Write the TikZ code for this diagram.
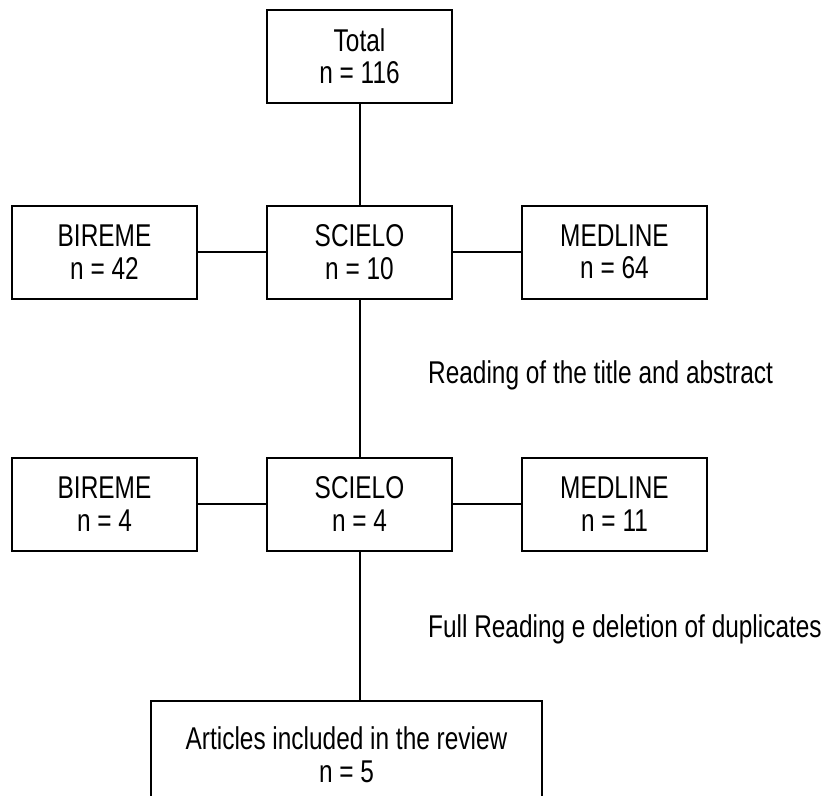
\documentclass[tikz,border=0pt]{standalone}
\usepackage{fontspec}
\setmainfont{Liberation Sans}[FakeStretch=0.775]
\usetikzlibrary{positioning}

\begin{document}
\begin{tikzpicture}[x=1pt, y=1pt, node distance=103pt and 70pt, every node/.style={font=\fontsize{31.5}{32.5}\selectfont}, box/.style={draw, line width=2pt, align=center, outer sep=0pt, minimum width=185pt, minimum height=93pt}, link/.style={line width=2pt}]
\clip (0,0) rectangle (827,-795);
\node[box] (total) at (359.5,-56) {Total\\n = 116};
\node[box, below=of total] (scielo1) {SCIELO\\n = 10};
\node[box, left=of scielo1] (bireme1) {BIREME\\n = 42};
\node[box, right=of scielo1] (medline1) {MEDLINE\\n = 64};
\node[box, below=159pt of scielo1] (scielo2) {SCIELO\\n = 4};
\node[box, left=of scielo2] (bireme2) {BIREME\\n = 4};
\node[box, right=of scielo2] (medline2) {MEDLINE\\n = 11};
\node[box, minimum width=391pt, minimum height=108pt] (included) at (346.5,-754.5) {Articles included in the review\\n = 5};
\node[anchor=base west, inner sep=0pt] (reading) at (428,-383) {Reading of the title and abstract};
\node[anchor=base west, inner sep=0pt] (fullread) at (428,-637) {Full Reading e deletion of duplicates};
\draw[link] (total) -- (scielo1);
\draw[link] (bireme1) -- (scielo1);
\draw[link] (scielo1) -- (medline1);
\draw[link] (scielo1) -- (scielo2);
\draw[link] (bireme2) -- (scielo2);
\draw[link] (scielo2) -- (medline2);
\draw[link] (scielo2) -- (scielo2 |- included.north);
\end{tikzpicture}
\end{document}
